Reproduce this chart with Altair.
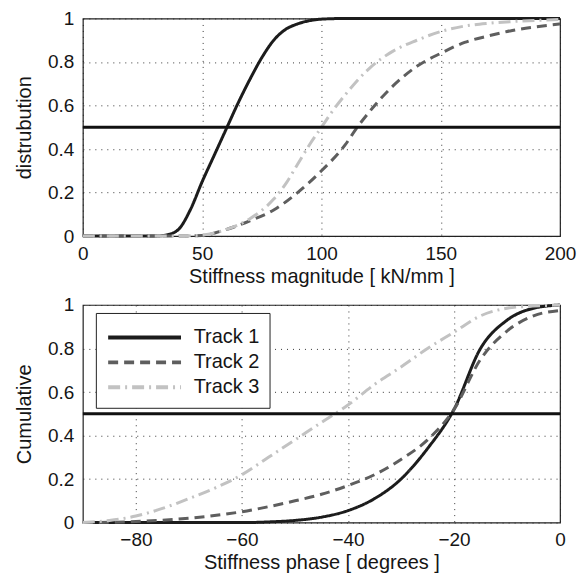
import altair as alt
import pandas as pd

tracks = ["Track 1", "Track 2", "Track 3"]

# Top panel: stiffness magnitude [kN/mm]
mag_x1 = [0, 30, 35, 40, 45, 50, 55, 60, 65, 70, 75, 80, 85, 90, 95, 100, 110, 200]
mag_y1 = [0, 0, 0.005, 0.03, 0.12, 0.25, 0.37, 0.49, 0.61, 0.72, 0.82, 0.9, 0.95, 0.975, 0.99, 0.997, 1.0, 1.0]
mag_x2 = [0, 40, 50, 60, 70, 80, 90, 100, 110, 115, 120, 130, 140, 150, 160, 170, 180, 190, 200]
mag_y2 = [0, 0, 0.003, 0.03, 0.07, 0.12, 0.2, 0.3, 0.42, 0.5, 0.57, 0.69, 0.78, 0.84, 0.89, 0.92, 0.945, 0.962, 0.975]
mag_x3 = [0, 40, 50, 60, 70, 80, 85, 90, 95, 100, 105, 110, 120, 130, 140, 150, 160, 170, 180, 200]
mag_y3 = [0, 0, 0.005, 0.03, 0.08, 0.17, 0.24, 0.33, 0.42, 0.5, 0.58, 0.65, 0.77, 0.85, 0.9, 0.94, 0.965, 0.978, 0.986, 0.995]

# Bottom panel: stiffness phase [degrees]
ph_x1 = [-90, -60, -55, -50, -45, -40, -35, -30, -25, -20, -15, -10, -5, 0]
ph_y1 = [0, 0, 0.003, 0.01, 0.025, 0.055, 0.11, 0.2, 0.34, 0.52, 0.8, 0.93, 0.985, 1.0]
ph_x2 = [-90, -80, -70, -60, -50, -45, -40, -35, -30, -25, -20, -15, -10, -5, 0]
ph_y2 = [0, 0.005, 0.02, 0.05, 0.1, 0.13, 0.17, 0.22, 0.29, 0.38, 0.52, 0.75, 0.88, 0.95, 0.975]
ph_x3 = [-90, -85, -80, -75, -70, -65, -60, -55, -50, -45, -40, -35, -30, -25, -20, -15, -10, -5, 0]
ph_y3 = [0, 0.01, 0.03, 0.065, 0.11, 0.16, 0.22, 0.3, 0.38, 0.46, 0.54, 0.635, 0.715, 0.8, 0.875, 0.95, 0.985, 0.995, 1.0]

half_level = [0.5]

colors = ["#1c1c1c", "#5e5e5e", "#c2c2c2"]
dashes = [[1, 0], [10, 6], [12, 5, 2, 5]]
FONT = "Liberation Sans"


def frame(xs, ys):
    rows = []
    for t, x, y in zip(tracks, xs, ys):
        for i, (a, b) in enumerate(zip(x, y)):
            rows.append({"track": t, "x": a, "y": b, "order": i})
    return pd.DataFrame(rows)


def panel(df, xdom, xvals, xtitle, ytitle, show_legend):
    xaxis = alt.Axis(values=xvals, title=xtitle, grid=True, ticks=False,
                     labelFlush=False, labelPadding=8, titlePadding=3)
    yaxis = alt.Axis(values=[0, 0.2, 0.4, 0.6, 0.8, 1], title=ytitle, grid=True,
                     ticks=False, labelFlush=False, labelPadding=9, titlePadding=13,
                     labelExpr="datum.value == 0 ? '0' : datum.value == 1 ? '1' : format(datum.value, '.1f')")
    if show_legend:
        legend = alt.Legend(title=None, orient="none", legendX=13, legendY=8,
                            strokeColor="#222", fillColor="white", padding=10,
                            symbolType="M-1,0H5", symbolSize=592, symbolStrokeWidth=4,
                            labelFontSize=20, rowPadding=0, labelOffset=59)
    else:
        legend = None
    lines = alt.Chart(df).mark_line(strokeWidth=3, interpolate="monotone").encode(
        x=alt.X("x:Q", scale=alt.Scale(domain=xdom, nice=False, zero=False), axis=xaxis),
        y=alt.Y("y:Q", scale=alt.Scale(domain=[0, 1], nice=False), axis=yaxis),
        color=alt.Color("track:N", scale=alt.Scale(domain=tracks, range=colors), legend=legend),
        strokeDash=alt.StrokeDash("track:N", scale=alt.Scale(domain=tracks, range=dashes), legend=legend),
        order="order:Q",
    )
    rule = alt.Chart(pd.DataFrame({"level": half_level})).mark_rule(
        color="#111", strokeWidth=3).encode(y="level:Q")
    return alt.layer(lines, rule).properties(width=478, height=218)


top = panel(frame([mag_x1, mag_x2, mag_x3], [mag_y1, mag_y2, mag_y3]),
            [0, 200], [0, 50, 100, 150, 200], "Stiffness magnitude [ kN/mm ]", "distrubution", False)
bottom = panel(frame([ph_x1, ph_x2, ph_x3], [ph_y1, ph_y2, ph_y3]),
               [-90, 0], [-80, -60, -40, -20, 0], "Stiffness phase [ degrees ]", "Cumulative", True)

chart = alt.vconcat(top, bottom, spacing=8).resolve_scale(
    x="independent", color="independent", strokeDash="independent"
).resolve_legend(color="independent", strokeDash="independent").configure_view(
    stroke="#222", strokeWidth=1.2
).configure_axis(
    labelFont=FONT, titleFont=FONT, labelFontSize=19, titleFontSize=20,
    labelColor="#151515", titleColor="#151515", titleFontWeight="normal",
    gridColor="#222", gridDash=[1, 5], gridWidth=1, gridOpacity=0.9,
    domain=False,
).configure_legend(labelFont=FONT, labelColor="#151515").properties(
    padding={"left": 5, "top": 0, "right": 0, "bottom": 0}, background="white"
)

chart.save("out.html", embed_options={"renderer": "svg", "actions": False})
